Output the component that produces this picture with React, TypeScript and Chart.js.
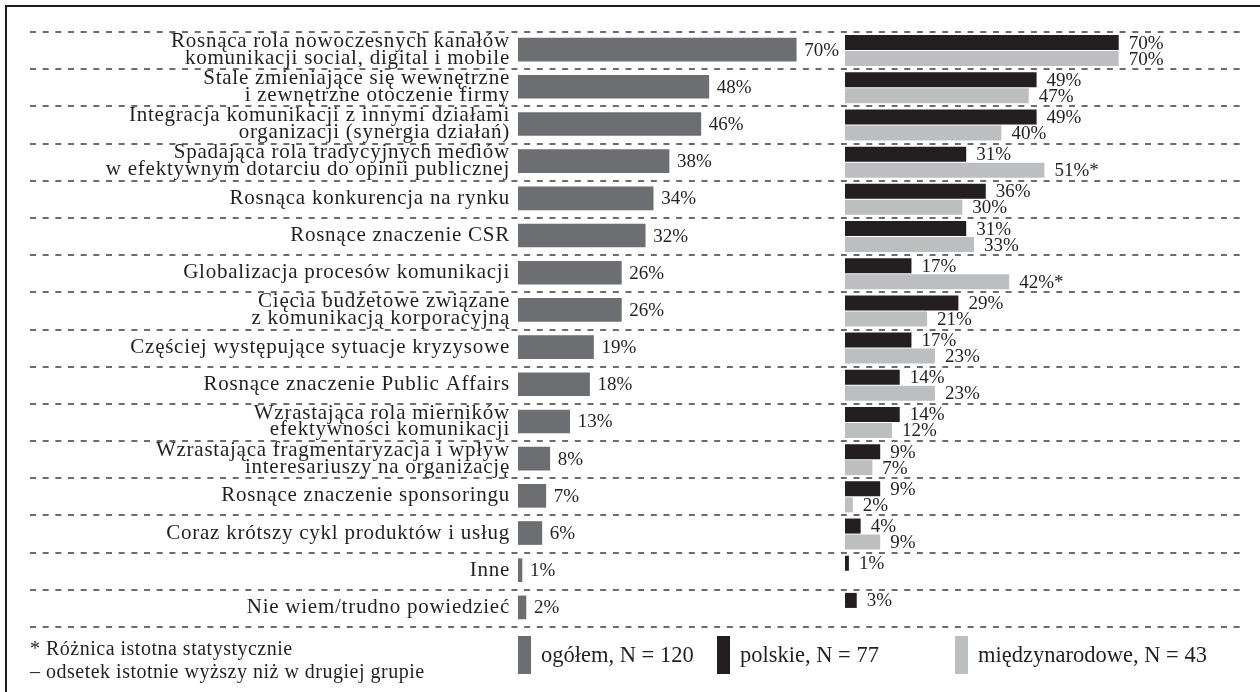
import React, { useEffect, useRef } from 'react';
import { Chart, registerables } from 'chart.js';

Chart.register(...registerables);

// ---- data ----
const categories: string[][] = [
  ['Rosnąca rola nowoczesnych kanałów', 'komunikacji social, digital i mobile'],
  ['Stale zmieniające się wewnętrzne', 'i zewnętrzne otoczenie firmy'],
  ['Integracja komunikacji z innymi działami', 'organizacji (synergia działań)'],
  ['Spadająca rola tradycyjnych mediów', 'w efektywnym dotarciu do opinii publicznej'],
  ['Rosnąca konkurencja na rynku'],
  ['Rosnące znaczenie CSR'],
  ['Globalizacja procesów komunikacji'],
  ['Cięcia budżetowe związane', 'z komunikacją korporacyjną'],
  ['Częściej występujące sytuacje kryzysowe'],
  ['Rosnące znaczenie Public Affairs'],
  ['Wzrastająca rola mierników', 'efektywności komunikacji'],
  ['Wzrastająca fragmentaryzacja i wpływ', 'interesariuszy na organizację'],
  ['Rosnące znaczenie sponsoringu'],
  ['Coraz krótszy cykl produktów i usług'],
  ['Inne'],
  ['Nie wiem/trudno powiedzieć'],
];

const totalValues = [70, 48, 46, 38, 34, 32, 26, 26, 19, 18, 13, 8, 7, 6, 1, 2];
const polishValues = [70, 49, 49, 31, 36, 31, 17, 29, 17, 14, 14, 9, 9, 4, 1, 3];
const intlValues: (number | null)[] = [70, 47, 40, 51, 30, 33, 42, 21, 23, 23, 12, 7, 2, 9, null, null];
// statistically significant differences (marked with an asterisk)
const intlSignificant = [false, false, false, true, false, false, true, false, false, false, false, false, false, false, false, false];

const seriesNames = ['ogółem, N = 120', 'polskie, N = 77', 'międzynarodowe, N = 43'];
const footnoteLines = ['* Różnica istotna statystycznie', '– odsetek istotnie wyższy niż w drugiej grupie'];

// ---- styles ----
const COLORS = ['#6d6e71', '#231f20', '#bcbec0'];
const TEXT = '#231f20';
const SERIF = '"Liberation Serif", "Times New Roman", serif';
const W = 1260;
const H = 692;

// Percent labels written just past the end of every bar
function makeValueLabels(marks: (boolean[] | null)[], gap: number, dy: number) {
  return {
    id: 'valueLabels',
    afterDatasetsDraw(chart: any) {
      const ctx = chart.ctx;
      ctx.save();
      ctx.letterSpacing = '0px';
      ctx.font = `19px ${SERIF}`;
      ctx.fillStyle = TEXT;
      ctx.textBaseline = 'middle';
      ctx.textAlign = 'left';
      chart.data.datasets.forEach((ds: any, di: number) => {
        const meta = chart.getDatasetMeta(di);
        meta.data.forEach((bar: any, i: number) => {
          const v = ds.data[i];
          if (v === null || v === undefined) return;
          const star = marks[di] && marks[di]![i] ? '*' : '';
          ctx.fillText(`${v}%${star}`, bar.x + gap, bar.y + dy);
        });
      });
      ctx.restore();
    },
  };
}

// Slightly wider tracking for the category names
const labelTracking = {
  id: 'labelTracking',
  beforeDraw(chart: any) {
    chart.ctx.letterSpacing = '0.75px';
  },
  beforeDatasetsDraw(chart: any) {
    chart.ctx.letterSpacing = '0px';
  },
};

// Dashed separators between category rows, across the whole figure
const rowRules = {
  id: 'rowRules',
  beforeDatasetsDraw(chart: any) {
    const y = chart.scales.y;
    const ctx = chart.ctx;
    ctx.save();
    ctx.strokeStyle = '#3c3c3c';
    ctx.lineWidth = 1.6;
    ctx.setLineDash([6, 6.67]);
    for (let i = 0; i <= chart.data.labels.length; i++) {
      const py = Math.round(y.getPixelForValue(i - 0.5));
      ctx.beginPath();
      ctx.moveTo(30, py);
      ctx.lineTo(1241, py);
      ctx.stroke();
    }
    ctx.restore();
  },
};

export default function App() {
  const leftRef = useRef<HTMLCanvasElement>(null);
  const rightRef = useRef<HTMLCanvasElement>(null);

  useEffect(() => {
    const left = new Chart(leftRef.current!, {
      type: 'bar',
      data: {
        labels: categories,
        datasets: [
          {
            label: seriesNames[0],
            data: totalValues,
            backgroundColor: COLORS[0],
            borderWidth: 0,
            barThickness: 23,
          },
        ],
      },
      options: {
        indexAxis: 'y',
        animation: false,
        responsive: false,
        devicePixelRatio: 1,
        layout: { padding: { left: 0, right: W - 836, top: 31, bottom: H - 626 } },
        plugins: { legend: { display: false }, tooltip: { enabled: false } },
        scales: {
          x: { display: false, min: 0, max: 80 },
          y: {
            type: 'category',
            grid: { display: false, drawTicks: false },
            border: { display: false },
            ticks: {
              color: TEXT,
              padding: 8,
              font: { family: SERIF, size: 21, lineHeight: 0.8 },
              autoSkip: false,
            },
            afterFit(scale: any) {
              scale.width = 518;
            },
          },
        },
      },
      plugins: [labelTracking, makeValueLabels([null], 8, 1)],
    } as any);

    const right = new Chart(rightRef.current!, {
      type: 'bar',
      data: {
        labels: categories,
        datasets: [
          {
            label: seriesNames[1],
            data: polishValues,
            backgroundColor: COLORS[1],
            borderWidth: 0,
            categoryPercentage: 0.86,
            barPercentage: 0.94,
          },
          {
            label: seriesNames[2],
            data: intlValues,
            backgroundColor: COLORS[2],
            borderWidth: 0,
            categoryPercentage: 0.86,
            barPercentage: 0.94,
          },
        ],
      },
      options: {
        indexAxis: 'y',
        animation: false,
        responsive: false,
        devicePixelRatio: 1,
        layout: { padding: { left: 845, right: W - 1236, top: 32, bottom: H - 627 } },
        plugins: { legend: { display: false }, tooltip: { enabled: false } },
        scales: {
          x: { display: false, min: 0, max: 100 },
          y: { display: false },
        },
      },
      plugins: [rowRules, makeValueLabels([null, intlSignificant], 10, 1)],
    } as any);

    return () => {
      left.destroy();
      right.destroy();
    };
  }, []);

  const legendLefts = [518, 717, 955];

  return (
    <div
      style={{
        position: 'fixed',
        left: 0,
        top: 0,
        width: W,
        height: H,
        background: '#fff',
        overflow: 'hidden',
        fontFamily: SERIF,
      }}
    >
      {/* frame */}
      <div
        style={{
          position: 'absolute',
          left: 5,
          top: 5,
          width: W,
          height: H,
          borderLeft: '2px solid #1e1e1e',
          borderTop: '2px solid #1e1e1e',
        }}
      />
      <canvas ref={rightRef} width={W} height={H} style={{ position: 'absolute', left: 0, top: 0 }} />
      <canvas ref={leftRef} width={W} height={H} style={{ position: 'absolute', left: 0, top: 0 }} />

      {/* footnote */}
      <div
        style={{
          position: 'absolute',
          left: 30,
          top: 637,
          fontSize: 20,
          letterSpacing: '0.5px',
          lineHeight: '23px',
          color: TEXT,
          whiteSpace: 'nowrap',
        }}
      >
        {footnoteLines.map((t) => (
          <div key={t}>{t}</div>
        ))}
      </div>

      {/* legend */}
      {seriesNames.map((name, i) => (
        <div
          key={name}
          style={{
            position: 'absolute',
            left: legendLefts[i],
            top: 636,
            height: 38,
            display: 'flex',
            alignItems: 'center',
            whiteSpace: 'nowrap',
          }}
        >
          <span style={{ display: 'inline-block', width: 13, height: 38, background: COLORS[i], marginRight: 10 }} />
          <span style={{ fontSize: 22.5, color: TEXT }}>{name}</span>
        </div>
      ))}
    </div>
  );
}
